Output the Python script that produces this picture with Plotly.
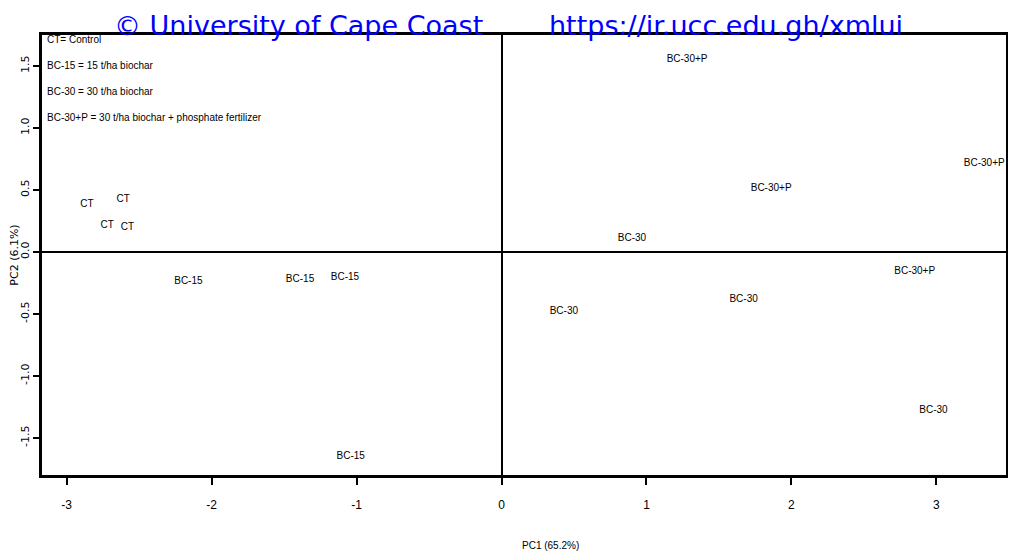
import plotly.graph_objects as go

# Sample scores
groups = ["CT", "CT", "CT", "CT",
          "BC-15", "BC-15", "BC-15", "BC-15",
          "BC-30", "BC-30", "BC-30", "BC-30",
          "BC-30+P", "BC-30+P", "BC-30+P", "BC-30+P"]
pc1 = [-2.86, -2.61, -2.72, -2.58,
       -2.16, -1.39, -1.08, -1.04,
       0.90, 0.43, 1.67, 2.98,
       1.28, 1.86, 3.33, 2.85]
pc2 = [0.38, 0.42, 0.21, 0.20,
       -0.24, -0.22, -0.21, -1.65,
       0.11, -0.48, -0.38, -1.28,
       1.55, 0.51, 0.71, -0.16]

x_ticks = [-3, -2, -1, 0, 1, 2, 3]
x_tick_labels = ["-3", "-2", "-1", "0", "1", "2", "3"]
y_ticks = [-1.5, -1.0, -0.5, 0.0, 0.5, 1.0, 1.5]
y_tick_labels = ["-1.5", "-1.0", "-0.5", "0.0", "0.5", "1.0", "1.5"]

legend_lines = ["CT= Control",
                "BC-15 = 15 t/ha biochar",
                "BC-30 = 30 t/ha biochar",
                "BC-30+P = 30 t/ha biochar + phosphate fertilizer"]

x_title = "PC1 (65.2%)"
y_title = "PC2 (6.1%)"
watermark_left = "© University of Cape Coast"
watermark_right = "https://ir.ucc.edu.gh/xmlui"

narrow = "Liberation Sans Narrow, Arial Narrow, sans-serif"

fig = go.Figure()
fig.add_trace(go.Scatter(
    x=pc1, y=pc2, mode="text", text=groups,
    textfont=dict(family=narrow, size=10, color="black"),
    cliponaxis=False, showlegend=False, hoverinfo="skip"))

fig.update_layout(
    width=1008, height=543,
    margin=dict(l=34, r=10, t=27, b=76),
    paper_bgcolor="white", plot_bgcolor="white",
    showlegend=False,
    xaxis=dict(range=[-3.17, 3.48], tickvals=x_ticks, ticktext=x_tick_labels,
               automargin=False,
               showgrid=False, zeroline=True, zerolinecolor="black", zerolinewidth=2,
               showline=True, linecolor="black", linewidth=2.5, mirror=True,
               ticks="outside", ticklen=7, tickwidth=1.5, tickcolor="black",
               ticklabelstandoff=10,
               tickfont=dict(family=narrow, size=12, color="black")),
    yaxis=dict(range=[-1.8, 1.75], tickvals=y_ticks, ticktext=y_tick_labels,
               automargin=False,
               showgrid=False, zeroline=True, zerolinecolor="black", zerolinewidth=2,
               showline=True, linecolor="black", linewidth=2.5, mirror=True,
               ticks="outside", ticklen=6, tickwidth=1.5, tickcolor="black",
               tickangle=-90,
               tickfont=dict(family="DejaVu Sans", size=11, color="black"),
               title=dict(text=y_title, standoff=2,
                          font=dict(family="DejaVu Sans", size=11, color="black"))),
)

fig.add_annotation(xref="paper", yref="paper", x=0.528, y=0, xanchor="center", yanchor="middle",
                   text=x_title, showarrow=False, yshift=-70,
                   font=dict(family=narrow, size=10, color="black"))

for i, line in enumerate(legend_lines):
    fig.add_annotation(xref="paper", yref="paper", x=0.003,
                       y=0.989 - i * 0.059, xanchor="left", yanchor="middle",
                       text=line, showarrow=False,
                       font=dict(family=narrow, size=10, color="black"))

for txt, xp in [(watermark_left, 0.266), (watermark_right, 0.710)]:
    fig.add_annotation(xref="paper", yref="paper", x=xp, y=1.0, xanchor="center", yanchor="top",
                       text=txt, showarrow=False, yshift=27,
                       font=dict(family="DejaVu Sans, sans-serif", size=27, color="blue"))

fig.write_html("out.html")
